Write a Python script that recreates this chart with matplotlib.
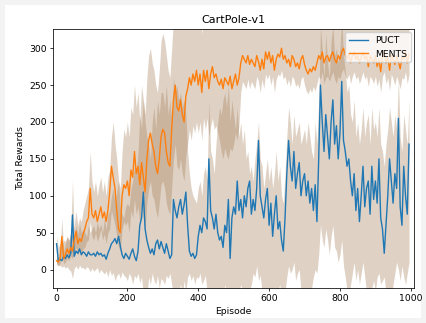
import numpy as np
import matplotlib
matplotlib.use("Agg")
import matplotlib.pyplot as plt
from matplotlib.patches import Rectangle

# ---- data ----
episodes = np.arange(0, 1000, 5)

puct_mean = [
    35, 12, 14, 12, 18, 15, 20, 16, 22, 74, 18, 25, 22, 28, 20, 24, 22, 18, 24, 20,
    20, 22, 18, 24, 20, 22, 18, 20, 14, 22, 28, 35, 38, 42, 35, 45, 32, 20, 15, 22,
    18, 14, 22, 28, 18, 12, 25, 60, 70, 105, 55, 40, 30, 22, 28, 20, 35, 40, 28, 38,
    30, 22, 35, 25, 15, 20, 95, 80, 70, 85, 95, 75, 88, 105, 60, 25, 18, 22, 15, 20,
    45, 60, 50, 70, 65, 55, 150, 80, 70, 55, 75, 50, 40, 45, 30, 60, 50, 95, 15, 70,
    85, 75, 120, 80, 95, 70, 100, 85, 110, 120, 75, 95, 80, 110, 175, 100, 85, 70, 95, 110,
    60, 90, 45, 75, 100, 55, 65, 40, 25, 70, 130, 175, 140, 120, 160, 110, 130, 145, 100, 120,
    130, 100, 120, 90, 110, 80, 115, 65, 150, 250, 200, 160, 210, 180, 150, 200, 230, 170, 195, 150,
    185, 255, 175, 160, 140, 150, 120, 100, 130, 80, 110, 65, 100, 140, 85, 110, 120, 75, 140, 95,
    120, 90, 150, 70, 55, 22, 60, 100, 150, 120, 90, 130, 110, 205, 85, 60, 140, 100, 75, 170,
]

ments_mean = [
    12, 10, 15, 45, 15, 20, 28, 22, 30, 25, 40, 52, 35, 42, 38, 48, 55, 65, 70, 110,
    75, 70, 80, 65, 75, 85, 70, 78, 65, 80, 105, 140, 125, 110, 80, 55, 50, 100, 115, 110,
    120, 100, 135, 125, 160, 130, 140, 115, 145, 125, 105, 150, 175, 185, 170, 160, 140, 130, 150, 180,
    190, 185, 160, 145, 140, 190, 230, 250, 220, 215, 230, 210, 200, 235, 245, 260, 250, 265, 255, 270,
    250, 265, 240, 270, 255, 270, 245, 265, 275, 260, 265, 255, 250, 258, 245, 260, 255, 250, 262, 245,
    255, 265, 250, 260, 280, 290, 285, 280, 290, 278, 285, 280, 275, 290, 282, 270, 285, 272, 295, 285,
    295, 280, 290, 270, 285, 292, 288, 300, 285, 290, 280, 285, 275, 290, 285, 275, 280, 272, 285, 290,
    278, 270, 265, 272, 268, 275, 270, 280, 290, 285, 295, 280, 288, 290, 282, 290, 295, 285, 280, 290,
    285, 295, 300, 290, 285, 292, 280, 290, 295, 285, 290, 280, 288, 295, 285, 290, 275, 290, 285, 280,
    290, 275, 285, 268, 290, 295, 280, 288, 270, 292, 285, 278, 290, 282, 272, 288, 285, 295, 280, 292,
]

puct_low = [
    8, 5, 6, 3, 5, 2, 4, 0, -2, -12, 2, 5, 0, 6, 2, 3, 0, 4, 2, -3,
    2, -2, 0, 3, -5, 0, -3, -6, -2, -10, 0, -8, -4, -15, -8, -5, -12, -3, -8, -10,
    -15, -5, -10, -20, -8, -12, -5, -18, -10, -35, -30, -40, -10, -20, -5, -15, -20, -8, -25, -12,
    -15, -20, -8, -12, -5, -20, -35, -25, -40, -30, -20, -35, -15, -30, -10, -5, -15, -8, -20, -10,
    -12, -5, -20, -15, -8, -30, -40, -25, -35, -30, -45, -25, -35, -30, -40, -20, -35, -30, -40, -30,
    -35, -25, -40, -30, -20, -35, -30, -25, -40, -30, -20, -5, -10, 5, -15, -8, -30, -40, -25, -35,
    -30, -40, -35, -25, -45, -30, -20, -40, -35, -30, -10, 5, -5, 0, 10, -15, -5, 0, -30, -35,
    -40, -30, -35, -45, -25, -10, 0, -5, 20, 60, 40, 30, 55, 40, 20, 45, 60, 30, 25, 10,
    20, 40, 5, -10, -30, -35, -20, -5, 10, -15, 0, -20, -5, 10, -10, -30, -35, -40, -25, -15,
    -30, -10, -5, -20, -15, -10, -35, -40, -30, -45, -20, -5, 10, 0, -15, 5, -10, -20, -5, 10,
]
puct_high = [
    45, 30, 35, 32, 40, 38, 45, 40, 50, 120, 45, 60, 48, 62, 50, 55, 50, 45, 60, 50,
    55, 60, 50, 65, 55, 62, 50, 70, 55, 75, 80, 100, 110, 90, 105, 120, 85, 75, 70, 85,
    90, 85, 110, 120, 140, 130, 160, 210, 190, 230, 200, 180, 170, 150, 200, 220, 190, 230, 210, 240,
    240, 220, 250, 210, 230, 200, 260, 240, 250, 230, 240, 220, 230, 210, 160, 130, 110, 100, 95, 90,
    110, 120, 100, 130, 140, 120, 230, 160, 150, 130, 170, 200, 220, 210, 230, 240, 220, 250, 200, 230,
    210, 190, 220, 180, 200, 170, 190, 150, 160, 130, 140, 120, 150, 170, 200, 150, 140, 110, 130, 150,
    120, 140, 110, 130, 160, 120, 140, 100, 90, 130, 180, 220, 200, 170, 210, 180, 190, 200, 170, 180,
    190, 170, 200, 180, 160, 150, 200, 170, 230, 330, 300, 260, 320, 280, 260, 310, 330, 290, 300, 280,
    300, 340, 290, 270, 240, 250, 210, 200, 230, 180, 200, 170, 190, 220, 180, 200, 210, 170, 220, 190,
    200, 180, 220, 170, 160, 140, 170, 190, 220, 200, 180, 210, 190, 260, 180, 160, 210, 190, 170, 230,
]
ments_low = [
    8, 5, 8, 20, 8, 10, 15, 12, 18, 15, 22, 30, 20, 25, 22, 28, 30, 38, 40, 65,
    45, 40, 50, 38, 45, 55, 40, 48, 35, 50, 55, 80, 70, 60, 45, 30, 25, 55, 65, 60,
    65, 50, 80, 70, 95, 75, 85, 60, 90, 70, 55, 90, 110, 120, 100, 95, 80, 70, 90, 115,
    120, 110, 90, 80, 75, 110, 150, 170, 140, 135, 150, 130, 120, 155, 170, 190, 175, 195, 185, 200,
    185, 200, 175, 205, 190, 205, 180, 195, 205, 190, 195, 185, 175, 160, 150, 165, 155, 150, 165, 160,
    170, 185, 175, 195, 240, 255, 250, 245, 258, 245, 255, 250, 245, 262, 255, 240, 258, 245, 265, 258,
    265, 250, 262, 240, 258, 265, 262, 270, 258, 262, 250, 258, 248, 262, 258, 248, 252, 245, 258, 262,
    250, 242, 238, 245, 240, 248, 242, 252, 262, 258, 268, 252, 260, 262, 255, 262, 268, 258, 252, 262,
    258, 268, 272, 262, 258, 265, 252, 262, 268, 258, 262, 252, 260, 268, 258, 262, 248, 262, 258, 252,
    262, 248, 258, 240, 262, 268, 252, 260, 242, 265, 258, 250, 262, 255, 245, 260, 258, 268, 252, 265,
]
ments_high = [
    18, 15, 25, 70, 25, 35, 45, 38, 50, 45, 60, 80, 60, 70, 65, 80, 90, 100, 110, 160,
    120, 105, 120, 100, 115, 125, 105, 120, 100, 125, 135, 180, 200, 170, 150, 120, 110, 160, 190, 180,
    200, 180, 220, 210, 250, 220, 240, 200, 250, 230, 210, 260, 290, 300, 280, 270, 250, 240, 270, 310,
    320, 310, 290, 270, 260, 300, 340, 350, 330, 330, 340, 330, 330, 340, 345, 350, 345, 350, 345, 350,
    340, 345, 320, 345, 340, 330, 345, 340, 350, 340, 345, 335, 340, 345, 330, 340, 345, 335, 345, 340,
    335, 345, 340, 350, 345, 350, 345, 340, 350, 345, 350, 345, 340, 350, 345, 335, 345, 340, 350, 345,
    350, 345, 340, 335, 345, 350, 345, 350, 340, 345, 350, 340, 335, 345, 340, 335, 345, 330, 345, 350,
    340, 335, 330, 340, 335, 340, 335, 345, 350, 345, 350, 345, 350, 345, 340, 345, 350, 345, 340, 345,
    345, 350, 350, 345, 340, 345, 340, 345, 350, 340, 345, 340, 345, 350, 340, 345, 335, 345, 340, 335,
    345, 335, 340, 325, 345, 350, 340, 345, 330, 345, 340, 335, 345, 340, 330, 345, 340, 350, 340, 345,
]

labels = ["PUCT", "MENTS"]
title = "CartPole-v1"

# ---- figure ----
W, H = 426, 323
fig = plt.figure(figsize=(W / 100, H / 100), dpi=100)
fig.patch.set_facecolor("#f3f3f3")
fig.add_artist(Rectangle((5 / W, 5 / H), 416 / W, 313 / H, transform=fig.transFigure,
                         facecolor="white", edgecolor="none", zorder=0))

ax = fig.add_axes([53 / W, 1 - 288 / H, (414 - 53) / W, (288 - 29) / H])

band_color = "#a07850"
ax.fill_between(episodes, puct_low, puct_high, color=band_color, alpha=0.33,
                linewidth=0, zorder=1)
ax.fill_between(episodes, ments_low, ments_high, color=band_color, alpha=0.33,
                linewidth=0, zorder=1)
ax.plot(episodes, puct_mean, color="#1f77b4", lw=1.0, label=labels[0], zorder=3)
ax.plot(episodes, ments_mean, color="#ff7f0e", lw=1.0, label=labels[1], zorder=3)

ax.set_xlim(-10, 1009)
ax.set_ylim(-25, 326)
ax.set_xticks([0, 200, 400, 600, 800, 1000])
ax.set_yticks([0, 50, 100, 150, 200, 250, 300])

fs = 6.7
ax.tick_params(labelsize=fs, length=2.3, width=0.55, pad=2.3)
for s in ax.spines.values():
    s.set_linewidth(0.55)
ax.set_title(title, fontsize=8, pad=4)
ax.set_xlabel("Episode", fontsize=fs, labelpad=2.5)
ax.set_ylabel("Total Rewards", fontsize=fs, labelpad=3)
ax.legend(loc="upper right", fontsize=fs, borderaxespad=0.35, handlelength=2.0,
          borderpad=0.4, labelspacing=0.5, framealpha=0.8)

fig.savefig("out.png", dpi=100, facecolor=fig.get_facecolor())
